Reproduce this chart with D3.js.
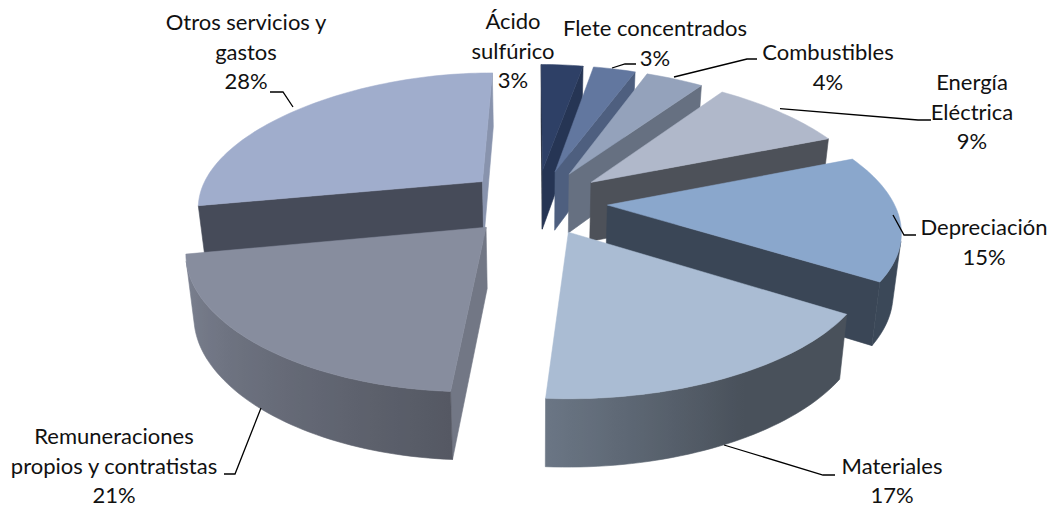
<!DOCTYPE html>
<html><head><meta charset="utf-8">
<script src="https://cdn.jsdelivr.net/npm/d3@7"></script>
<style>html,body{margin:0;background:#fff}svg{display:block}text{font-family:Lato,"Open Sans",sans-serif;fill:#111}</style>
</head><body><svg id="c" width="1052" height="508"></svg>
<script>
// ---- data ----
const categories = ["Ácido sulfúrico","Flete concentrados","Combustibles","Energía Eléctrica","Depreciación","Materiales","Remuneraciones propios y contratistas","Otros servicios y gastos"];
const values = [3,3,4,9,15,17,21,28];
const labelLines = [["Ácido","sulfúrico"],["Flete concentrados"],["Combustibles"],["Energía","Eléctrica"],["Depreciación"],["Materiales"],["Remuneraciones","propios y contratistas"],["Otros servicios y","gastos"]];
const topColors = ["#2e4066","#62779f","#94a2bb","#b0b8ca","#8aa7cc","#aabcd3","#878d9e","#a0adcc"];
// ---- label layout (centre x, first baseline) and leader lines ----
const labelPos = [[513,29],[655,36],[828,60],[972,90],[984,235],[892,473.5],[114,443.8],[246,30]];
const leaders = [null,[[612,68],[625,64],[636,64]],[[674,77],[747,59],[757,59]],[[780,108.7],[918,120],[931,120]],[[893,215],[904,235],[916,235]],[[724,445],[823,475],[835,475]],[[261,408],[235,474],[224,474]],[[293,107],[283,92],[270,92]]];

const svg = d3.select("#c");
const defs = svg.append("defs");
const xc=536, yc=202, explode=.25;
const project=(u,v,low)=>{
  let x=xc+u*(286+51*v)-(v>0?7*v*(1-Math.min(1,Math.abs(u))):0), y=yc+131*v/(1-.152*v);
  if(low){x=xc+(x-xc)*.977; y+=60/(1-.1*v);}
  return [x,y];
};
const arcs=d3.pie().sort(null).value(d=>d)(values);
const wallShade=d3.scaleLinear().domain([90,111,126,158,212]).range([.85,.8,.69,.44,.42]).clamp(true);
const curveShade=d3.scaleLinear().domain([120,150,184,259]).range([.43,.43,.63,.93]).clamp(true);
const line=d3.line();
const shade=(c,f)=>{const r=d3.rgb(c);return d3.rgb(r.r*f,r.g*f,r.b*f).formatHex();};
const area=p=>d3.polygonArea(p);
const deg=r=>r*180/Math.PI;

const slices=arcs.map((a,i)=>{
  const mid=(a.startAngle+a.endAngle)/2;
  return {a,i,mid,ou:explode*Math.sin(mid),ov:-explode*Math.cos(mid)};
}).sort((p,q)=>d3.descending(Math.cos(p.mid),Math.cos(q.mid)));

const g=svg.append("g");
slices.forEach(s=>{
  const n=Math.max(8,Math.round((s.a.endAngle-s.a.startAngle)*40));
  const ang=d3.range(n+1).map(k=>s.a.startAngle+(s.a.endAngle-s.a.startAngle)*k/n);
  const pt=(t,low)=>project(s.ou+Math.sin(t),s.ov-Math.cos(t),low);
  const ap=project(s.ou,s.ov,false), apL=project(s.ou,s.ov,true);
  const col=topColors[s.i];
  const quad=(p,q,pL,qL,c)=>{
    const poly=[p,q,qL,pL];
    if(area(poly)<=0) return;
    g.append("path").attr("d",line(poly)+"Z").attr("fill",c).attr("stroke",c).attr("stroke-width",.6);
  };
  // radial walls
  quad(ap,pt(s.a.startAngle),apL,pt(s.a.startAngle,true),shade(col,wallShade(((deg(s.a.startAngle)-90)+360)%360)));
  quad(pt(s.a.endAngle),ap,pt(s.a.endAngle,true),apL,shade(col,wallShade((deg(s.a.endAngle)+90)%360)));
  // outer wall: contiguous visible run, filled with a horizontal gradient
  const vis=d3.range(n).filter(k=>area([pt(ang[k]),pt(ang[k+1]),pt(ang[k+1],true),pt(ang[k],true)])>0);
  if(vis.length){
    const idx=[...vis,vis[vis.length-1]+1];
    const top=idx.map(k=>pt(ang[k])), low=idx.map(k=>pt(ang[k],true)).reverse();
    const xs=idx.map(k=>pt(ang[k])[0]);
    const x0=d3.min(xs), x1=d3.max(xs);
    const id="wall"+s.i;
    const grad=defs.append("linearGradient").attr("id",id).attr("gradientUnits","userSpaceOnUse").attr("x1",x0).attr("x2",x1).attr("y1",0).attr("y2",0);
    idx.map(k=>({x:pt(ang[k])[0],t:deg(ang[k])})).sort((a,b)=>a.x-b.x).forEach(d=>{
      grad.append("stop").attr("offset",x1>x0?(d.x-x0)/(x1-x0):0).attr("stop-color",shade(col,curveShade(d.t)));
    });
    g.append("path").attr("d",line([...top,...low])+"Z").attr("fill",`url(#${id})`).attr("stroke",`url(#${id})`).attr("stroke-width",.6);
  }
  // top
  g.append("path").attr("d",line([ap,...ang.map(t=>pt(t))])+"Z").attr("fill",col).attr("stroke",col).attr("stroke-width",.5);
});

const leaderLine=d3.line();
leaders.forEach(l=>{ if(l) svg.append("path").attr("d",leaderLine(l)).attr("fill","none").attr("stroke","#000").attr("stroke-width",1.3); });

const fs=22, lh=29.7;
labelLines.forEach((lines,i)=>{
  const t=svg.append("text").attr("text-anchor","middle").attr("font-size",fs);
  [...lines,values[i]+"%"].forEach((s,j)=>t.append("tspan").attr("x",labelPos[i][0]).attr("y",labelPos[i][1]+j*lh).text(s));
});
</script></body></html>
